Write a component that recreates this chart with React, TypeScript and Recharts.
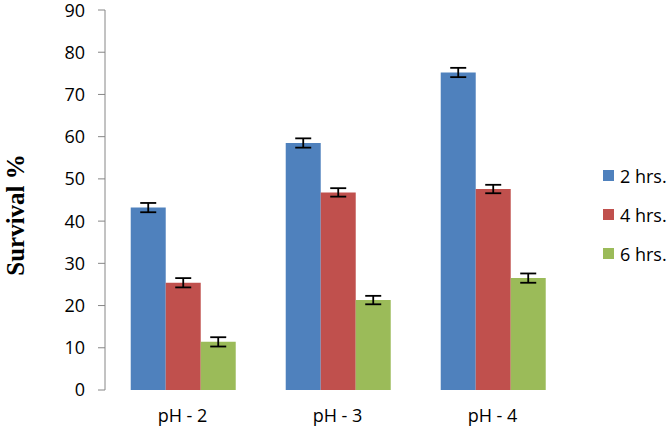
import { BarChart, Bar, XAxis, YAxis, ErrorBar, Label } from "recharts";

const categories = ["pH - 2", "pH - 3", "pH - 4"];
const hrs2 = [43.2, 58.5, 75.2];
const hrs4 = [25.4, 46.8, 47.6];
const hrs6 = [11.4, 21.3, 26.5];
const err2 = [1.1, 1.1, 1.1];
const err4 = [1.1, 1.0, 1.0];
const err6 = [1.1, 1.0, 1.1];
const yTicks = [0, 10, 20, 30, 40, 50, 60, 70, 80, 90];
const edgeTicks = [0, 1, 2, 3];

const series = [
	{ key: "h2", err: "e2", name: "2 hrs.", color: "#4F81BD" },
	{ key: "h4", err: "e4", name: "4 hrs.", color: "#C0504D" },
	{ key: "h6", err: "e6", name: "6 hrs.", color: "#9BBB59" },
];

const data = categories.map((c, i) => ({
	cat: c,
	h2: hrs2[i],
	h4: hrs4[i],
	h6: hrs6[i],
	e2: err2[i],
	e4: err4[i],
	e6: err6[i],
}));

const AXIS = "#868686";
const FONT = "'Open Sans', sans-serif";

function YTitle({ viewBox }: any) {
	const cx = viewBox.x + 15;
	const cy = viewBox.y + viewBox.height / 2 + 15;
	return (
		<text
			x={cx}
			y={cy}
			transform={`rotate(-90 ${cx} ${cy})`}
			textAnchor="middle"
			dominantBaseline="central"
			style={{
				fontFamily: "'Liberation Serif', 'Times New Roman', serif",
				fontWeight: "bold",
				fontSize: 25,
				fill: "#000",
			}}
		>
			Survival %
		</text>
	);
}

function LegendBox() {
	return (
		<div
			style={{
				position: "absolute",
				left: 603,
				top: 156,
				fontFamily: FONT,
				fontSize: 18,
				color: "#000",
			}}
		>
			{series.map((s) => (
				<div
					key={s.key}
					style={{ display: "flex", alignItems: "center", height: 39 }}
				>
					<span
						style={{
							display: "inline-block",
							width: 11,
							height: 11,
							background: s.color,
							marginRight: 6,
						}}
					/>
					<span>{s.name}</span>
				</div>
			))}
		</div>
	);
}

export default function App() {
	return (
		<div
			style={{
				position: "fixed",
				left: 0,
				top: 0,
				width: 668,
				height: 427,
				background: "#fff",
			}}
		>
			<BarChart
				width={668}
				height={427}
				data={data}
				margin={{ top: 10, right: 98, bottom: 0, left: 0 }}
				barCategoryGap="16.6%"
				barGap={0}
			>
				<XAxis
					xAxisId="edge"
					type="number"
					domain={[0, 3]}
					ticks={edgeTicks}
					tick={false}
					tickSize={6}
					height={0}
					axisLine={{ stroke: AXIS }}
					tickLine={{ stroke: AXIS }}
				/>
				<XAxis
					xAxisId="cat"
					dataKey="cat"
					height={37}
					axisLine={false}
					tickLine={false}
					tickMargin={13}
					tick={{ fill: "#000", fontSize: 18, fontFamily: FONT }}
				/>
				<YAxis
					domain={[0, 90]}
					ticks={yTicks}
					width={105}
					tickSize={7}
					tickMargin={13}
					axisLine={{ stroke: AXIS }}
					tickLine={{ stroke: AXIS }}
					tick={{ fill: "#000", fontSize: 18, fontFamily: FONT }}
				>
					<Label content={<YTitle />} />
				</YAxis>
				{series.map((s) => (
					<Bar
						key={s.key}
						xAxisId="cat"
						dataKey={s.key}
						name={s.name}
						fill={s.color}
						isAnimationActive={false}
					>
						<ErrorBar
							dataKey={s.err}
							width={8}
							stroke="#000"
							strokeWidth={1.8}
							direction="y"
						/>
					</Bar>
				))}
			</BarChart>
			<LegendBox />
		</div>
	);
}
